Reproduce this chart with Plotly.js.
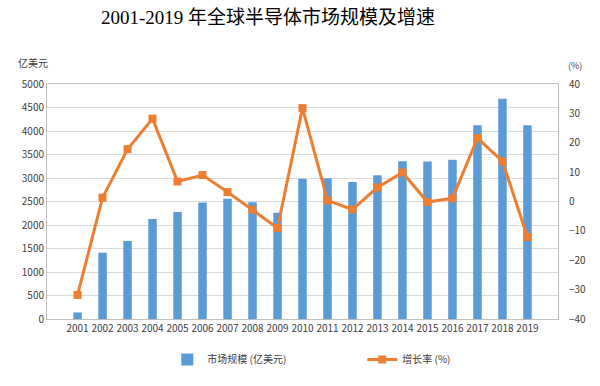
<!DOCTYPE html>
<html><head><meta charset="utf-8">
<script src="https://cdn.plot.ly/plotly-3.0.1.min.js"></script>
<style>body{margin:0;background:#fff}#c{width:600px;height:386px}</style>
</head><body><div id="c"></div>
<script>
const years = ['2001','2002','2003','2004','2005','2006','2007','2008','2009','2010','2011','2012','2013','2014','2015','2016','2017','2018','2019'];
const marketSize = [139, 1410, 1661, 2130, 2275, 2477, 2556, 2486, 2263, 2983, 2995, 2916, 3056, 3358, 3352, 3389, 4122, 4688, 4121];
const growthRate = [-31.8, 1.3, 17.8, 28.2, 6.8, 9.0, 3.2, -2.8, -9.0, 31.8, 0.4, -2.7, 4.8, 9.9, -0.2, 1.1, 21.6, 13.7, -12.1];
const titleText = '2001-2019 年全球半导体市场规模及增速';
const leftUnit = '亿美元';
const rightUnit = '(%)';
const barName = '市场规模 (亿美元)';
const lineName = '增长率 (%)';

const tickFont = {family: 'Noto Sans CJK SC, Noto Sans, sans-serif', size: 10, color: '#404040'};
const data = [
  {type: 'bar', x: years, y: marketSize, name: barName, marker: {color: '#5B9BD5'}, yaxis: 'y', hoverinfo: 'x+y'},
  {type: 'scatter', mode: 'lines+markers', x: years, y: growthRate, name: lineName, yaxis: 'y2',
   line: {color: '#ED7D31', width: 3}, marker: {symbol: 'square', size: 8, color: '#ED7D31'}}
];
const layout = {
  width: 600, height: 386,
  margin: {l: 47, r: 42, t: 84, b: 64},
  paper_bgcolor: '#fff', plot_bgcolor: '#fff',
  bargap: 0.66,
  showlegend: true,
  title: {text: titleText, x: 268/600, xanchor: 'center', y: 0.955, yanchor: 'middle',
          font: {family: 'Liberation Serif, Noto Sans CJK SC, serif', size: 19, color: '#000'}},
  xaxis: {type: 'category', tickfont: tickFont, showline: true, linecolor: '#bfbfbf', mirror: true,
          ticks: '', showgrid: false, zeroline: false},
  yaxis: {range: [0, 5000], dtick: 500, tickfont: tickFont, gridcolor: '#d9d9d9', showline: true,
          linecolor: '#bfbfbf', mirror: true, zeroline: false, tickformat: 'd', ticks: ''},
  yaxis2: {range: [-40, 40], dtick: 10, overlaying: 'y', side: 'right', tickfont: tickFont,
           showgrid: false, zeroline: false, showline: false, ticks: '', ticklabelstandoff: 10},
  legend: {orientation: 'h', x: 0.617, xanchor: 'center', y: -0.172, yanchor: 'middle',
           font: {family: 'Noto Sans CJK SC, sans-serif', size: 10, color: '#404040'}, entrywidth: 150},
  annotations: [
    {text: leftUnit, xref: 'paper', yref: 'paper', x: -0.06, y: 1.09, xanchor: 'left', yanchor: 'middle', showarrow: false,
     font: {family: 'Noto Sans CJK SC, sans-serif', size: 10, color: '#404040'}},
    {text: rightUnit, xref: 'paper', yref: 'paper', x: 1.016, y: 1.08, xanchor: 'left', yanchor: 'middle', showarrow: false,
     font: {family: 'Noto Sans CJK SC, sans-serif', size: 9, color: '#404040'}}
  ]
};
Plotly.newPlot('c', data, layout, {displayModeBar: false, staticPlot: true});
</script></body></html>
